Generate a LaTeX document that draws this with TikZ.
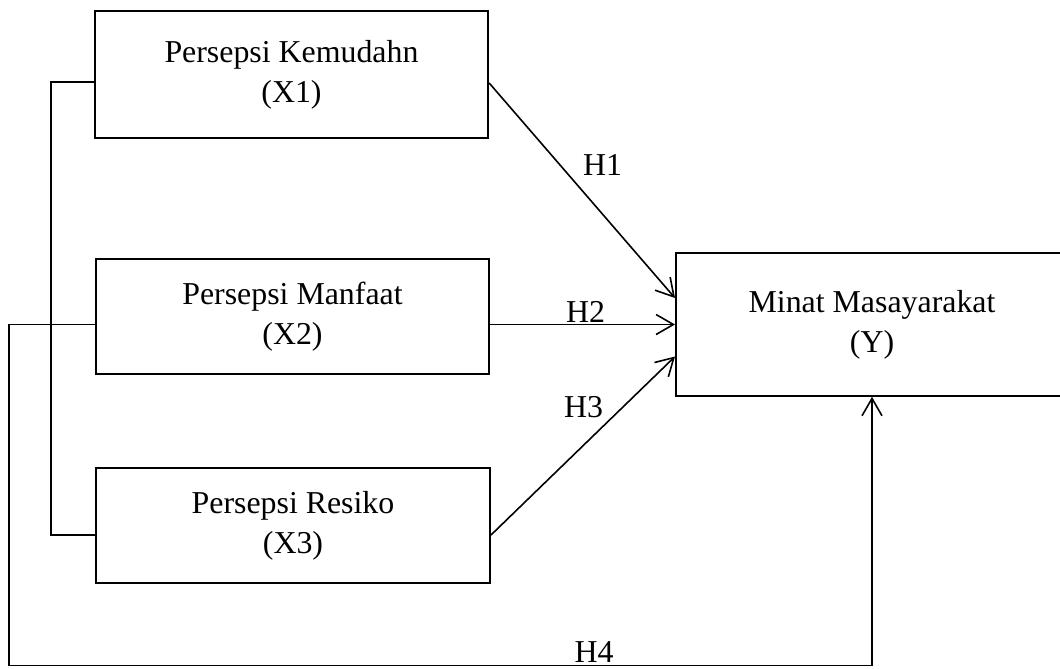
\documentclass[tikz,border=0pt]{standalone}
\usepackage{fontspec}
\setmainfont{Liberation Serif}
\usetikzlibrary{arrows.meta,calc}

\tikzset{
  varbox/.style={draw,line width=1.5pt,rectangle,inner sep=0pt,align=center,
    font=\fontsize{23.9}{30}\selectfont},
  link/.style={line width=1.2pt},
  hyp/.style={line width=1.2pt,-{Straight Barb[length=13pt,width=15pt]}},
  hlabel/.style={inner sep=0pt,font=\fontsize{23.9}{30}\selectfont}
}

\begin{document}
\begin{tikzpicture}[x=0.75pt,y=-0.75pt]
  \clip (0,0) rectangle (1060,668);

  %independent variables
  \node[varbox,minimum width=295pt,minimum height=95pt] (x1) at (291.5,74.5) {Persepsi Kemudahn\\(X1)};
  \node[varbox,minimum width=295pt,minimum height=86pt] (x2) at (292.5,316.5) {Persepsi Manfaat\\(X2)};
  \node[varbox,minimum width=295.5pt,minimum height=86pt] (x3) at (293,525.5) {Persepsi Resiko\\(X3)};

  %dependent variable
  \node[varbox,minimum width=294pt,minimum height=107pt] (y) at (872,324.5) {Minat Masayarakat\\(Y)};

  %bracket between X1 and X3
  \draw[link] ($(x1.west)+(0,7.5)$) -- ++(-43,0) |- ($(x3.west)+(0,9.5)$);

  %hypotheses H1 - H3
  \draw[hyp] ($(x1.east)+(0,8.5)$) -- ($(y.west)+(0,-26.5)$);
  \draw[hyp] (x2.east |- y.west) -- (y.west);
  \draw[hyp] ($(x3.east)+(0,9.5)$) -- ($(y.west)+(0,32)$);

  %simultaneous path H4
  \draw[hyp] (x2.west |- y.west) -- ++(-86,0) -- ++(0,341) -| (y.south);

  \node[hlabel] (h1) at (602.5,165) {H1};
  \node[hlabel] (h2) at (585.5,311.5) {H2};
  \node[hlabel] (h3) at (583.5,407) {H3};
  \node[hlabel] (h4) at (594,652) {H4};
\end{tikzpicture}
\end{document}
